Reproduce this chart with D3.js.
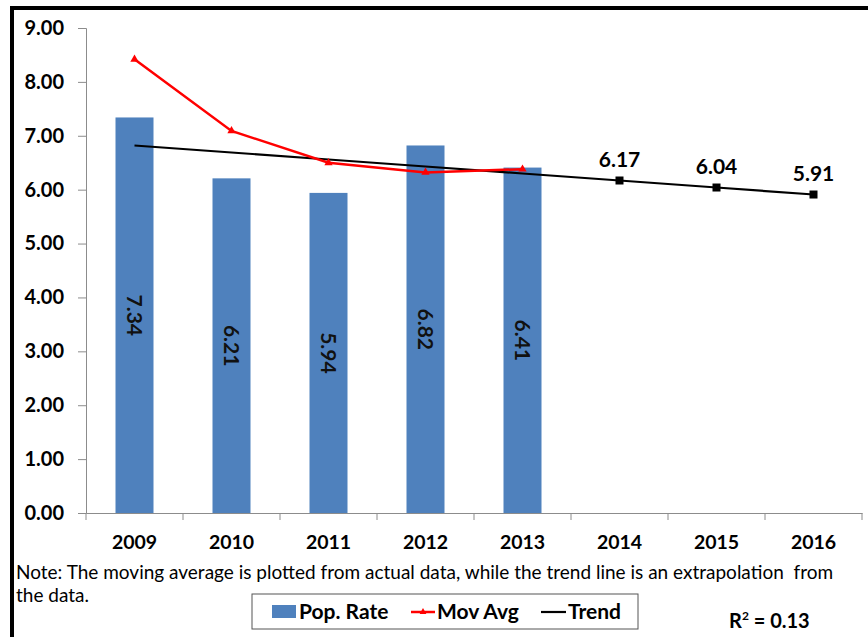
<!DOCTYPE html>
<html><head><meta charset="utf-8">
<script src="https://cdn.jsdelivr.net/npm/d3@7/dist/d3.min.js"></script>
<style>body{margin:0;background:#fff;}svg{display:block;font-family:Lato,"Open Sans",sans-serif;}</style>
</head><body>
<script>
const years = ["2009","2010","2011","2012","2013","2014","2015","2016"];
const popRate = [7.34, 6.21, 5.94, 6.82, 6.41];
const movAvg = [8.42, 7.09, 6.50, 6.32, 6.38];
const trend = [6.82, 6.69, 6.56, 6.43, 6.30, 6.17, 6.04, 5.91];
const trendLabelled = ["2014","2015","2016"];
const yTicks = [0,1,2,3,4,5,6,7,8,9];

const W = 868, H = 637;
const svg = d3.select("body").append("svg").attr("width", W).attr("height", H);

// frame
svg.append("line").attr("x1",12).attr("x2",12).attr("y1",6).attr("y2",H).attr("stroke","#000").attr("stroke-width",4);
svg.append("line").attr("x1",10).attr("x2",W).attr("y1",8).attr("y2",8).attr("stroke","#000").attr("stroke-width",4);

const x = d3.scaleBand().domain(years).range([86, 862]).paddingInner(0).paddingOuter(0);
const y = d3.scaleLinear().domain([0, 9]).range([513, 28]);

// y axis
const ya = svg.append("g").attr("transform","translate(86,0)")
  .call(d3.axisLeft(y).tickValues(yTicks).tickFormat(d3.format(".2f")).tickSize(8).tickPadding(14));
ya.selectAll("path,line").attr("stroke","#8c8c8c");
ya.selectAll("text").attr("font-size",20).attr("font-weight","bold").attr("fill","#000").attr("font-family","Lato, 'Open Sans', sans-serif");

// x axis
const xa = svg.append("g").attr("transform","translate(0,513)")
  .call(d3.axisBottom(x).tickSize(0).tickPadding(22));
xa.select("path").attr("stroke","#8c8c8c");
xa.selectAll("text").attr("font-size",19.5).attr("font-weight","bold").attr("fill","#000").attr("font-family","Lato, 'Open Sans', sans-serif");
const bounds = years.map(d => x(d)).concat([x(years[years.length-1]) + x.bandwidth()]);
xa.selectAll(".bt").data(bounds).enter().append("line").attr("class","bt")
  .attr("x1",d=>d).attr("x2",d=>d).attr("y1",0).attr("y2",7).attr("stroke","#8c8c8c");

// bars
const bw = 38;
const cx = d => x(d) + x.bandwidth()/2;
svg.append("g").selectAll("rect").data(popRate).enter().append("rect")
  .attr("x",(d,i)=>cx(years[i]) - bw/2).attr("width",bw)
  .attr("y",d=>y(d)).attr("height",d=>y(0)-y(d)).attr("fill","#4f81bd");
svg.append("g").selectAll("text").data(popRate).enter().append("text")
  .attr("transform",(d,i)=>`translate(${cx(years[i])},${y(d/2)}) rotate(90)`)
  .attr("text-anchor","middle").attr("dy","0.35em")
  .attr("font-size",21).attr("font-weight","bold").attr("fill","#111")
  .text(d=>d.toFixed(2));

// trend line
const tl = d3.line().x((d,i)=>cx(years[i])).y(d=>y(d));
svg.append("path").datum(trend).attr("d",tl).attr("fill","none").attr("stroke","#000").attr("stroke-width",2.2);
const tm = trend.map((v,i)=>({year:years[i],v})).filter(d=>trendLabelled.includes(d.year));
svg.append("g").selectAll("rect").data(tm).enter().append("rect")
  .attr("x",d=>cx(d.year)-4).attr("y",d=>y(d.v)-4).attr("width",8).attr("height",8).attr("fill","#000");
svg.append("g").selectAll("text").data(tm).enter().append("text")
  .attr("x",d=>cx(d.year)).attr("y",d=>y(d.v)-14).attr("text-anchor","middle")
  .attr("font-size",21).attr("font-weight","bold").attr("fill","#000").text(d=>d.v.toFixed(2));

// moving average
svg.append("path").datum(movAvg).attr("d",tl).attr("fill","none").attr("stroke","#ff0000").attr("stroke-width",2.5);
svg.append("g").selectAll("path").data(movAvg).enter().append("path")
  .attr("d",d3.symbol().type(d3.symbolTriangle).size(30))
  .attr("transform",(d,i)=>`translate(${cx(years[i])},${y(d)})`).attr("fill","#ff0000");

// note
const note = svg.append("text").attr("x",16).attr("font-size",19).attr("fill","#000").style("white-space","pre");
note.append("tspan").attr("x",16).attr("y",579).text("Note: The moving average is plotted from actual data, while the trend line is an extrapolation  from");
note.append("tspan").attr("x",16).attr("y",602).text("the data.");

// legend
svg.append("rect").attr("x",252).attr("y",594).attr("width",386).attr("height",35).attr("fill","#fff").attr("stroke","#555").attr("stroke-width",1);
const lg = svg.append("g");
lg.append("rect").attr("x",272).attr("y",605).attr("width",24).attr("height",13).attr("fill","#4f81bd");
lg.append("text").attr("x",299).attr("y",619).attr("font-size",21).attr("font-weight","bold").text("Pop. Rate");
lg.append("line").attr("x1",411).attr("x2",435).attr("y1",612).attr("y2",612).attr("stroke","#ff0000").attr("stroke-width",2.5);
lg.append("path").attr("d",d3.symbol().type(d3.symbolTriangle).size(20)).attr("transform","translate(423,612)").attr("fill","#ff0000");
lg.append("text").attr("x",437).attr("y",619).attr("font-size",21).attr("font-weight","bold").text("Mov Avg");
lg.append("line").attr("x1",541).attr("x2",566).attr("y1",612).attr("y2",612).attr("stroke","#000").attr("stroke-width",2.2);
lg.append("text").attr("x",568).attr("y",619).attr("font-size",21).attr("font-weight","bold").text("Trend");

// R2
const r2 = svg.append("text").attr("x",729).attr("y",628).attr("font-size",20).attr("font-weight","bold");
r2.append("tspan").text("R");
r2.append("tspan").attr("font-size",12).attr("dy",-8).text("2");
r2.append("tspan").attr("dy",8).text(" = 0.13");
</script>
</body></html>
